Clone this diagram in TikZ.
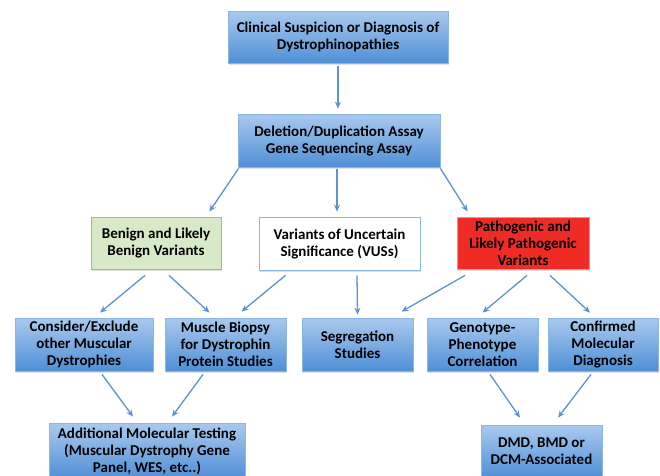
\documentclass[tikz,border=0pt]{standalone}
\usepackage{fontspec}
\setmainfont{Carlito}
\usetikzlibrary{arrows.meta,calc,shadows}
\definecolor{boxtop}{HTML}{A9C9EE}
\definecolor{boxbot}{HTML}{4F8FD6}
\definecolor{boxline}{HTML}{8EB4E0}
\definecolor{arrowc}{HTML}{5E93D0}
\definecolor{benigngreen}{HTML}{D8E9C8}
\definecolor{pathred}{HTML}{EE2B24}
\tikzset{
  base/.style={draw=boxline, line width=0.8pt, align=center, inner sep=0pt,
    font=\fontsize{15}{17}\selectfont\bfseries, text=black,
    drop shadow={opacity=0.25, shadow xshift=1pt, shadow yshift=-1.5pt}},
  bluebox/.style={base, top color=boxtop, bottom color=boxbot},
  greenbox/.style={base, fill=benigngreen},
  whitebox/.style={base, fill=white},
  redbox/.style={base, fill=pathred},
  arr/.style={draw=arrowc, line width=1.3pt, -{Stealth[length=7pt,width=6pt]}}
}
\begin{document}
\begin{tikzpicture}[x=1pt,y=-1pt]
\clip (0,0) rectangle (660,475);
\fill[white] (0,0) rectangle (660,475);
% row 1
\node[bluebox, minimum width=220pt, minimum height=52pt] (top) at (338,37) {Clinical Suspicion or Diagnosis of\\Dystrophinopathies};
% row 2
\node[bluebox, minimum width=202pt, minimum height=53pt] (second) at (339,140.5) {Deletion/Duplication Assay\\Gene Sequencing Assay};
% row 3
\node[greenbox, minimum width=130pt, minimum height=52pt] (benign) at (156,243) {Benign and Likely\\Benign Variants};
\node[whitebox, minimum width=161pt, minimum height=53pt] (vus) at (339.5,243.5) {Variants of Uncertain\\Significance (VUSs)};
\node[redbox, minimum width=132pt, minimum height=52pt] (path) at (523,243) {Pathogenic and\\Likely Pathogenic\\Variants};
% row 4
\node[bluebox, minimum width=138pt, minimum height=53pt] (consider) at (84,344.5) {Consider/Exclude\\other Muscular\\Dystrophies};
\node[bluebox, minimum width=121pt, minimum height=53pt] (muscle) at (225.5,344.5) {Muscle Biopsy\\for Dystrophin\\Protein Studies};
\node[bluebox, minimum width=111pt, minimum height=53pt] (seg) at (357.5,344.5) {Segregation\\Studies};
\node[bluebox, minimum width=111pt, minimum height=53pt] (geno) at (482.5,344.5) {Genotype-\\Phenotype\\Correlation};
\node[bluebox, minimum width=110pt, minimum height=53pt] (conf) at (603,344.5) {Confirmed\\Molecular\\Diagnosis};
% row 5
\node[bluebox, minimum width=196pt, minimum height=56pt] (add) at (147,451) {Additional Molecular Testing\\(Muscular Dystrophy Gene\\Panel, WES, etc..)};
\node[bluebox, minimum width=121pt, minimum height=53pt] (dmd) at (541.5,451.5) {DMD, BMD or\\DCM-Associated};
% arrows
\draw[arr] ($(top.south)+(0,3)$) -- ($(second.north)+(-1,-5)$);
\draw[arr] ($(second.south west)+(1,1)$) -- ($(benign.north east)+(-12,-5)$);
\draw[arr] ($(second.south)+(-2,2)$) -- ($(vus.north)+(-2.5,-5)$);
\draw[arr] ($(second.south east)+(0,1)$) -- ($(path.north west)+(11,-5)$);
\draw[arr] ($(benign.south)+(-11,6)$) -- ($(consider.north)+(16,-5)$);
\draw[arr] ($(benign.south)+(13,6)$) -- ($(muscle.north)+(-16,-5)$);
\draw[arr] ($(vus.south)+(-54,5)$) -- ($(muscle.north)+(16,-6)$);
\draw[arr] ($(vus.south)+(17.5,5)$) -- ($(seg.north)+(0,-3)$);
\draw[arr] ($(path.south)+(-58,6)$) -- ($(seg.north)+(44,-6)$);
\draw[arr] ($(path.south)+(4,6)$) -- ($(geno.north)+(0,-5)$);
\draw[arr] ($(path.south)+(27,6)$) -- ($(conf.north)+(-13,-5)$);
\draw[arr] ($(consider.south)+(18,3)$) -- ($(add.north)+(-14,-6)$);
\draw[arr] ($(muscle.south)+(-22.5,3)$) -- ($(add.north)+(25,-6)$);
\draw[arr] ($(geno.south)+(7.5,3)$) -- ($(dmd.north)+(-21.5,-7)$);
\draw[arr] ($(conf.south)+(-12,3)$) -- ($(dmd.north)+(16.5,-7)$);
\end{tikzpicture}
\end{document}
